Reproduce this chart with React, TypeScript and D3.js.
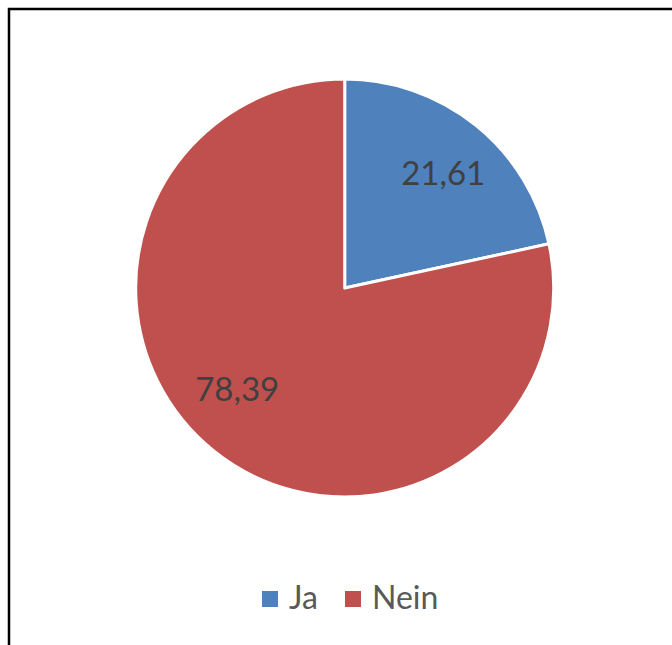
import React from "react";
import * as d3 from "d3";

const categories = ["Ja", "Nein"];
const values = [21.61, 78.39];
const labels = ["21,61", "78,39"];
const colors = ["#4F81BD", "#C0504D"];

const W = 672;
const H = 645;
const cx = 344.7;
const cy = 288;
const R = 209;
// layout nudges for data labels (Office "best fit" placement)
const labelNudge: [number, number][] = [[4, 2], [-13, -16]];

export default function App() {
  const pie = d3.pie<number>().sort(null).value((d) => d);
  const arcs = pie(values);
  const arc = d3.arc<d3.PieArcDatum<number>>().innerRadius(0).outerRadius(R);
  const labelArc = d3
    .arc<d3.PieArcDatum<number>>()
    .innerRadius(R * 0.72)
    .outerRadius(R * 0.72);
  const font = "Lato, 'Open Sans', sans-serif";
  const legendX = [262, 345];
  return (
    <svg
      width={W}
      height={H}
      style={{ position: "absolute", left: 0, top: 0, background: "#fff" }}
    >
      <rect x={9} y={9} width={W + 20} height={H + 20} fill="#fff" stroke="#000" strokeWidth={2.5} />
      <g transform={`translate(${cx},${cy})`}>
        {arcs.map((a, i) => (
          <path key={i} d={arc(a) || ""} fill={colors[i]} stroke="#fff" strokeWidth={3} strokeLinejoin="round" />
        ))}
        {arcs.map((a, i) => {
          const [x, y] = labelArc.centroid(a);
          return (
            <text
              key={i}
              x={x + labelNudge[i][0]}
              y={y + labelNudge[i][1]}
              dy="0.36em"
              textAnchor="middle"
              fontFamily={font}
              fontSize={33}
              fill="#404040"
            >
              {labels[i]}
            </text>
          );
        })}
      </g>
      {categories.map((c, i) => (
        <g key={c}>
          <rect x={legendX[i]} y={591} width={16} height={16} fill={colors[i]} />
          <text x={legendX[i] + 27} y={609} fontFamily={font} fontSize={32} fill="#595959">
            {c}
          </text>
        </g>
      ))}
    </svg>
  );
}
